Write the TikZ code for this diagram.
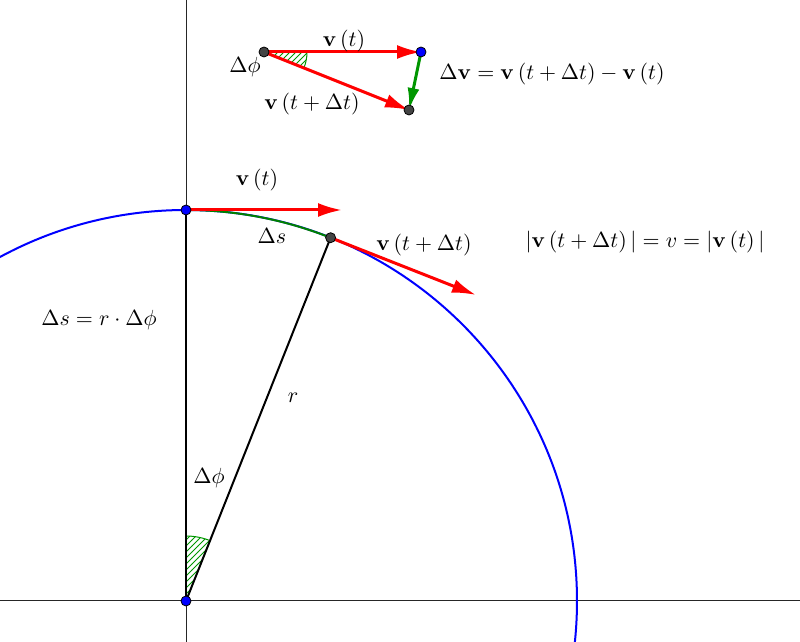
\documentclass[tikz,border=0pt]{standalone}
\usepackage{amsmath,amssymb}
\usepackage{tikz}
\usetikzlibrary{arrows.meta,patterns}

\definecolor{ggred}{RGB}{255,0,0}
\definecolor{gggreen}{RGB}{0,150,0}
\definecolor{ggarc}{RGB}{0,128,0}
\definecolor{ggdark}{RGB}{68,68,68}

\tikzset{
  vecarrow/.style={draw=ggred,line width=1.5pt,-{Latex[length=12pt,width=7pt]}},
  dvarrow/.style={draw=gggreen,line width=1.5pt,-{Latex[length=11pt,width=6pt]}},
  bluedot/.style={circle,fill=blue,draw=black,line width=0.4pt,inner sep=0pt,minimum size=5pt},
  greydot/.style={circle,fill=ggdark,draw=black,line width=0.4pt,inner sep=0pt,minimum size=5pt},
  hatch/.style={pattern=north east lines,pattern color=gggreen,draw=gggreen,line width=0.5pt},
  lbl/.style={anchor=center,inner sep=0.75pt,font=\fontsize{10.6}{13}\selectfont}
}

\begin{document}
\begin{tikzpicture}[x=0.5pt,y=0.5pt,yscale=-1,xscale=1]
        \useasboundingbox (0,0) rectangle (800,642);
        \clip (0,0) rectangle (800,642);

        % points
        \coordinate (O) at (186,601);
        \coordinate (A) at (186,210);
        \coordinate (B) at (330.6,237.7);
        \coordinate (Aend) at (342,210);
        \coordinate (Bend) at (476,295);
        \coordinate (P) at (264,52);
        \coordinate (Q) at (421,52);
        \coordinate (R) at (409,110);

        % axes
        \draw [line width=0.5pt,black!85] (0,601) -- (800,601);
        \draw [line width=0.5pt,black!85] (186,0) -- (186,642);

        % circle
        \draw [blue,line width=1pt] (O) circle [radius=391];

        % angles
        \draw [hatch] (O) -- ++(0,-65) arc [start angle=-90,end angle=-68.3,radius=65] -- cycle;
        \draw [hatch] (P) -- ++(43,0) arc [start angle=0,end angle=21.8,radius=43] -- cycle;

        % arc length
        \draw [ggarc,line width=1pt] (A) arc [start angle=-90,end angle=-68.3,radius=391];

        % radii
        \draw [line width=1pt] (O) -- (A);
        \draw [line width=1pt] (O) -- (B);

        % velocities
        \draw [vecarrow] (A) -- (Aend);
        \draw [vecarrow] (B) -- (Bend);
        \draw [vecarrow] (P) -- (Q);
        \draw [vecarrow] (P) -- (R);
        \draw [dvarrow] (Q) -- (R);

        \node [bluedot] (o) at (O) {};
        \node [bluedot] (a) at (A) {};
        \node [greydot] (b) at (B) {};
        \node [greydot] (p) at (P) {};
        \node [bluedot] (q) at (Q) {};
        \node [greydot] (r) at (R) {};

        % labels
        \node [lbl] (vt1) at (344,41) {$\mathbf{v}\left(t\right)$};
        \node [lbl] (phi1) at (245,67) {$\Delta\phi$};
        \node [lbl] (vdt1) at (312,104) {$\mathbf{v}\left(t+\Delta t\right)$};
        \node [lbl] (dv) at (552,74) {$\Delta\mathbf{v}=\mathbf{v}\left(t+\Delta t\right)-\mathbf{v}\left(t\right)$};
        \node [lbl] (vt2) at (257,180) {$\mathbf{v}\left(t\right)$};
        \node [lbl] (ds) at (272,236) {$\Delta s$};
        \node [lbl] (vdt2) at (424,245) {$\mathbf{v}\left(t+\Delta t\right)$};
        \node [lbl] (norm) at (645,242) {$\left|\mathbf{v}\left(t+\Delta t\right)\,\right|=v=\left|\mathbf{v}\left(t\right)\,\right|$};
        \node [lbl] (dsr) at (99,320) {$\Delta s=r\cdot\Delta\phi$};
        \node [lbl] (rad) at (293,398) {$r$};
        \node [lbl] (phi2) at (209,478) {$\Delta\phi$};
\end{tikzpicture}
\end{document}
